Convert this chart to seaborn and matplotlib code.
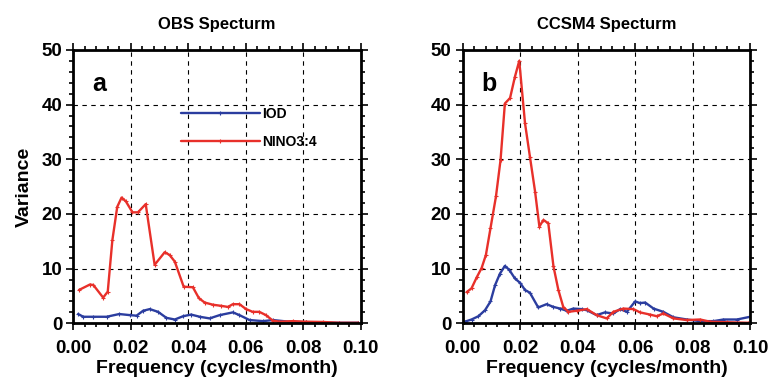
#!/usr/bin/env python3
"""
plot.py - OBS vs CCSM4 spectra of IOD and NINO3.4
Usage:
  python plot.py
"""
import numpy as np
import pandas as pd
import matplotlib
matplotlib.use("Agg")
import matplotlib.pyplot as plt
from matplotlib.ticker import MultipleLocator
import seaborn as sns

# values
obs_nino_f = [0.002, 0.0058, 0.007, 0.0104, 0.012, 0.0136, 0.0153, 0.0168, 0.0183,
              0.0206, 0.0225, 0.0252, 0.0283, 0.0318, 0.0335, 0.0353, 0.0384, 0.0416,
              0.0437, 0.0457, 0.0486, 0.0514, 0.0538, 0.0555, 0.0578, 0.0601, 0.0624,
              0.0647, 0.067, 0.0694, 0.0717, 0.0763, 0.081, 0.0867, 0.0925, 0.099]
obs_nino_v = [6.1, 7.1, 7.0, 4.7, 5.8, 15.2, 21.3, 23.0, 22.3,
              20.3, 20.3, 21.8, 10.7, 13.0, 12.5, 11.3, 6.7, 6.6,
              4.6, 3.8, 3.4, 3.2, 3.0, 3.5, 3.5, 2.6, 2.1,
              2.1, 1.5, 0.5, 0.3, 0.4, 0.3, 0.25, 0.1, 0.1]

obs_iod_f = [0.0017, 0.0035, 0.007, 0.0116, 0.016, 0.0197, 0.022, 0.0243, 0.0266,
             0.0295, 0.0324, 0.0353, 0.0382, 0.041, 0.044, 0.0474, 0.0509, 0.0555,
             0.0578, 0.0613, 0.066, 0.0694, 0.075, 0.081, 0.0925, 0.099]
obs_iod_v = [1.7, 1.2, 1.2, 1.2, 1.7, 1.5, 1.4, 2.3, 2.6,
             2.1, 1.0, 0.7, 1.3, 1.6, 1.2, 0.9, 1.5, 2.0,
             1.5, 0.6, 0.4, 0.6, 0.3, 0.2, 0.1, 0.1]

ccsm_nino_f = [0.0014, 0.0031, 0.0049, 0.0066, 0.0081, 0.0097, 0.0116, 0.0132, 0.0147,
               0.0165, 0.0182, 0.0197, 0.0217, 0.0234, 0.0252, 0.0267, 0.0281, 0.0298,
               0.0316, 0.0333, 0.035, 0.0368, 0.0397, 0.0432, 0.0466, 0.0501, 0.0524,
               0.0559, 0.0594, 0.0617, 0.0652, 0.0675, 0.0698, 0.0733, 0.078, 0.0826,
               0.086, 0.0919, 0.0994]
ccsm_nino_v = [5.7, 6.4, 8.4, 10.1, 12.5, 17.4, 23.2, 29.9, 40.2,
               41.2, 45.1, 48.0, 36.6, 30.5, 24.1, 17.7, 18.9, 18.3,
               10.4, 6.1, 3.0, 2.1, 2.3, 2.6, 1.5, 0.9, 2.1,
               2.7, 2.6, 2.0, 1.6, 1.3, 1.8, 0.9, 0.6, 0.7,
               0.3, 0.2, 0.1]

ccsm_iod_f = [0.0008, 0.0031, 0.0055, 0.0078, 0.0097, 0.0113, 0.013, 0.0147, 0.0162,
              0.0182, 0.02, 0.0217, 0.0234, 0.0263, 0.0292, 0.0316, 0.0339, 0.0362,
              0.0385, 0.0414, 0.0432, 0.0466, 0.0495, 0.0524, 0.0548, 0.0571, 0.06,
              0.0617, 0.0635, 0.0664, 0.0698, 0.0733, 0.078, 0.0826, 0.0872, 0.0907,
              0.0954, 0.1]
ccsm_iod_v = [0.3, 0.7, 1.3, 2.4, 4.0, 7.0, 9.1, 10.5, 9.8,
              8.2, 7.4, 6.1, 5.6, 2.9, 3.5, 3.0, 2.7, 2.3,
              2.7, 2.6, 2.4, 1.5, 2.0, 1.8, 2.6, 2.1, 4.0,
              3.7, 3.8, 2.7, 2.1, 1.1, 0.7, 0.4, 0.4, 0.7,
              0.7, 1.2]

titles = ["OBS Specturm", "CCSM4 Specturm"]
panel_labels = ["a", "b"]
series_names = ["IOD", "NINO3:4"]
colors = {"IOD": "#2b3d9f", "NINO3:4": "#e8302a"}


def frame(freq, var, name):
    return pd.DataFrame({"Frequency": freq, "Variance": var, "series": name})


def main():
    sns.set_style("white")
    plt.rcParams["font.family"] = ["Liberation Sans", "DejaVu Sans"]
    plt.rcParams["font.weight"] = "bold"
    plt.rcParams["axes.titleweight"] = "bold"
    plt.rcParams["axes.labelweight"] = "bold"
    for k in ["text.color", "axes.labelcolor", "xtick.color", "ytick.color"]:
        plt.rcParams[k] = "black"

    data = [
        pd.concat([frame(obs_iod_f, obs_iod_v, "IOD"),
                   frame(obs_nino_f, obs_nino_v, "NINO3:4")]),
        pd.concat([frame(ccsm_iod_f, ccsm_iod_v, "IOD"),
                   frame(ccsm_nino_f, ccsm_nino_v, "NINO3:4")]),
    ]

    fig = plt.figure(figsize=(7.71, 3.84), dpi=100)
    lefts = [0.095, 0.600]
    for i, left in enumerate(lefts):
        ax = fig.add_axes([left, 0.158, 0.373, 0.712])
        sns.lineplot(data=data[i], x="Frequency", y="Variance", hue="series",
                     hue_order=series_names, palette=colors, marker="+",
                     markersize=3, markeredgewidth=0.8, linewidth=1.7,
                     sort=False, legend=(i == 0), ax=ax)
        for ln in ax.lines:
            ln.set_markeredgecolor(ln.get_color())
        ax.set_xlim(0, 0.1)
        ax.set_ylim(0, 50)
        ax.xaxis.set_major_locator(MultipleLocator(0.02))
        ax.xaxis.set_minor_locator(MultipleLocator(0.004))
        ax.yaxis.set_major_locator(MultipleLocator(10))
        ax.yaxis.set_minor_locator(MultipleLocator(2))
        ax.set_xticklabels([f"{v:.2f}" for v in ax.get_xticks()])
        ax.grid(True, which="major", color="black", linestyle=(0, (4, 4)),
                linewidth=0.8)
        for s in ax.spines.values():
            s.set_visible(True)
            s.set_linewidth(2.0)
            s.set_color("black")
        ax.tick_params(which="both", direction="out", top=True, right=True,
                       bottom=True, left=True, color="black", width=1.2,
                       labelsize=13.5, pad=3)
        ax.tick_params(axis="x", which="both", pad=7)
        ax.tick_params(which="major", length=5)
        ax.tick_params(which="minor", length=3)
        ax.set_xlabel("Frequency (cycles/month)", fontsize=14, labelpad=2)
        ax.set_ylabel("Variance" if i == 0 else "", fontsize=14, labelpad=6)
        ax.set_title(titles[i], fontsize=12, pad=15)
        ax.text(0.065, 0.92, panel_labels[i], transform=ax.transAxes,
                fontsize=18, fontweight="bold", va="top", ha="left")
        if i == 0:
            leg = ax.legend(loc="upper left", bbox_to_anchor=(0.373, 0.79),
                            frameon=False, fontsize=10, handlelength=5.7,
                            handletextpad=0.15, labelspacing=1.0,
                            borderpad=0, borderaxespad=0, title=None)
            for h in leg.get_lines():
                h.set_linewidth(1.7)
                h.set_markeredgecolor(h.get_color())
    fig.savefig("out.png", dpi=100)
    print("Wrote: out.png")


if __name__ == "__main__":
    main()
